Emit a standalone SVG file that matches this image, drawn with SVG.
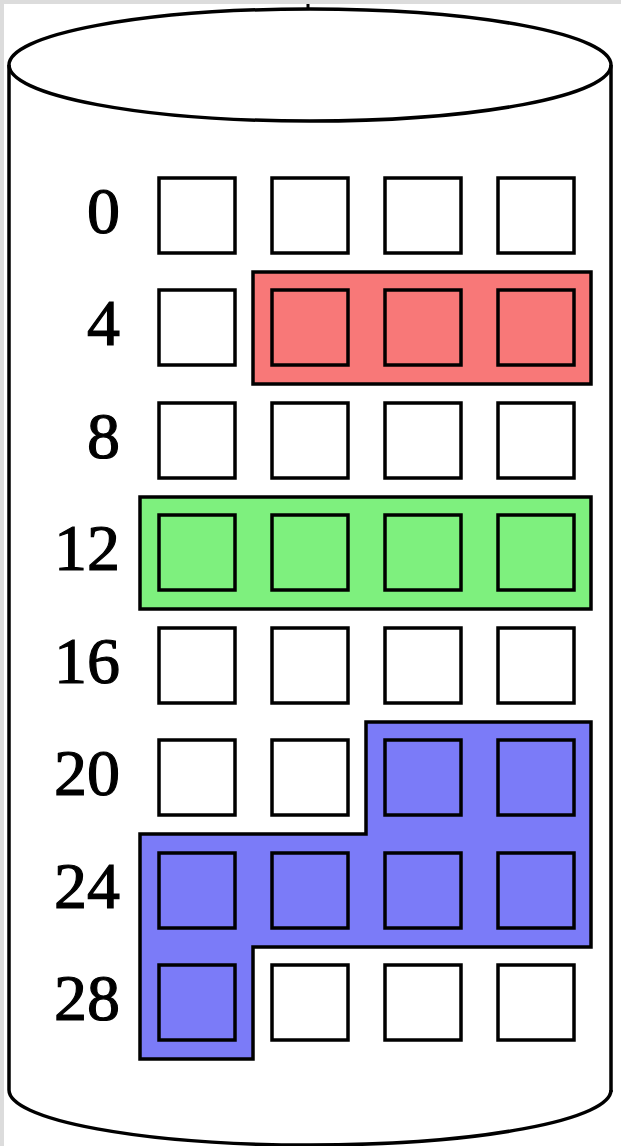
<svg xmlns="http://www.w3.org/2000/svg" width="621" height="1146" viewBox="0 0 621 1146">
<style>
.cyl{fill:none;stroke:#000;stroke-width:3.5}
.sq{fill:none;stroke:#000;stroke-width:3.5}
.lbl{font-family:"Liberation Serif",serif;font-size:66px;fill:#000;stroke:#000;stroke-width:1.2;text-anchor:end}
</style>
<rect x="0" y="0" width="621" height="1146" fill="#dcdcdc"/>
<rect x="4" y="4" width="617" height="1142" fill="#fff"/>
<g id="cylinder">
<path class="cyl" d="M9,65 L9,1090 M611,65 L611,1092"/>
<path class="cyl" d="M9,1090 A301,55 0 0 0 611,1090"/>
<ellipse class="cyl" cx="310" cy="65" rx="301" ry="56" fill="#fff"/>
<line x1="308" y1="4" x2="308" y2="9" stroke="#000" stroke-width="3"/>
</g>
<g id="red-region">
<rect x="253" y="272" width="338" height="112" fill="#f87878" stroke="#000" stroke-width="3.5"/>
</g>
<g id="green-region">
<rect x="140" y="497" width="451" height="112" fill="#7ef07e" stroke="#000" stroke-width="3.5"/>
</g>
<g id="blue-region">
<path d="M366,722 L591,722 L591,947 L253,947 L253,1059 L140,1059 L140,834 L366,834 Z" fill="#7b7bf8" stroke="#000" stroke-width="3.5"/>
</g>
<g id="labels">
<text class="lbl" x="120" y="233">0</text>
<text class="lbl" x="120" y="345">4</text>
<text class="lbl" x="120" y="458">8</text>
<text class="lbl" x="120" y="570">12</text>
<text class="lbl" x="120" y="683">16</text>
<text class="lbl" x="120" y="795">20</text>
<text class="lbl" x="120" y="908">24</text>
<text class="lbl" x="120" y="1020">28</text>
</g>
<g id="blocks">
<g id="row0"><rect class="sq" x="159" y="178" width="76" height="75"/><rect class="sq" x="272" y="178" width="76" height="75"/><rect class="sq" x="385" y="178" width="76" height="75"/><rect class="sq" x="498" y="178" width="76" height="75"/></g>
<g id="row4"><rect class="sq" x="159" y="290" width="76" height="75"/><rect class="sq" x="272" y="290" width="76" height="75"/><rect class="sq" x="385" y="290" width="76" height="75"/><rect class="sq" x="498" y="290" width="76" height="75"/></g>
<g id="row8"><rect class="sq" x="159" y="403" width="76" height="75"/><rect class="sq" x="272" y="403" width="76" height="75"/><rect class="sq" x="385" y="403" width="76" height="75"/><rect class="sq" x="498" y="403" width="76" height="75"/></g>
<g id="row12"><rect class="sq" x="159" y="515" width="76" height="75"/><rect class="sq" x="272" y="515" width="76" height="75"/><rect class="sq" x="385" y="515" width="76" height="75"/><rect class="sq" x="498" y="515" width="76" height="75"/></g>
<g id="row16"><rect class="sq" x="159" y="628" width="76" height="75"/><rect class="sq" x="272" y="628" width="76" height="75"/><rect class="sq" x="385" y="628" width="76" height="75"/><rect class="sq" x="498" y="628" width="76" height="75"/></g>
<g id="row20"><rect class="sq" x="159" y="740" width="76" height="75"/><rect class="sq" x="272" y="740" width="76" height="75"/><rect class="sq" x="385" y="740" width="76" height="75"/><rect class="sq" x="498" y="740" width="76" height="75"/></g>
<g id="row24"><rect class="sq" x="159" y="853" width="76" height="75"/><rect class="sq" x="272" y="853" width="76" height="75"/><rect class="sq" x="385" y="853" width="76" height="75"/><rect class="sq" x="498" y="853" width="76" height="75"/></g>
<g id="row28"><rect class="sq" x="159" y="965" width="76" height="75"/><rect class="sq" x="272" y="965" width="76" height="75"/><rect class="sq" x="385" y="965" width="76" height="75"/><rect class="sq" x="498" y="965" width="76" height="75"/></g>
</g>
</svg>
